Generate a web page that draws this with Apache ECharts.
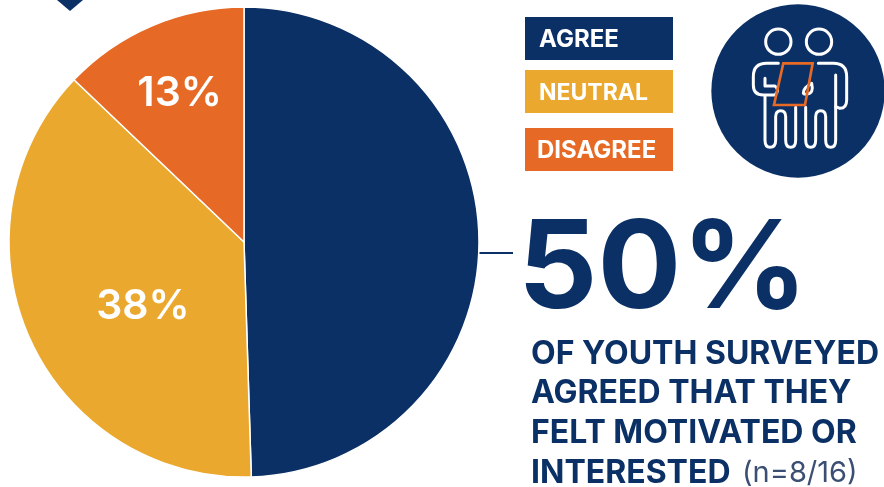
<!DOCTYPE html>
<html>
<head>
<meta charset="utf-8">
<style>html,body{margin:0;padding:0;background:#fff}#chart{width:884px;height:487px}</style>
<script src="https://cdn.jsdelivr.net/npm/echarts@6/dist/echarts.min.js"></script>
</head>
<body>
<div id="chart"></div>
<script>
// Survey responses, clockwise from twelve o'clock
const categories = ['AGREE', 'NEUTRAL', 'DISAGREE'];
const shares = [50, 38, 13];
const sliceColors = ['#0b3066', '#eaa92e', '#e66a25'];

// Callout text
const headlineLines = ['OF YOUTH SURVEYED', 'AGREED THAT THEY', 'FELT MOTIVATED OR', 'INTERESTED'];
const sampleNote = '(n=8/16)';

const NAVY = sliceColors[0];
const FONT = 'Inter, "Open Sans", sans-serif';

// Nudges the percentage labels away from the slice mid-radius
const labelOffsets = [[0, 0], [9, 16], [-17, -38]];
const legendTops = [17, 70, 128];
const legendTextX = [539, 539, 537];
const legendFontSizes = [24, 23, 24];

const chart = echarts.init(document.getElementById('chart'), null, { renderer: 'canvas' });

// Outlines for the badge figures, registered as reusable graphic shapes
const figurePaths = {
  leftArm: 'M805 190 L770 190 Q730 190 730 230 L730 255 Q730 285 760 285 L795 285 Q810 272 795 258 L765 258 L765 235',
  legs: 'M765 290 L765 420 Q765 442 780 442 Q797 442 797 420 L797 350 Q797 332 812 332 Q827 332 827 350 L827 420 Q827 442 842 442 Q857 442 857 420 L857 322 M887 322 L887 420 Q887 442 902 442 Q917 442 917 420 L917 350 Q917 332 932 332 Q947 332 947 350 L947 420 Q947 442 962 442 Q977 442 977 420 L977 225',
  rightArm: 'M925 190 L970 190 Q1010 190 1010 230 L1010 300 Q1010 325 990 325 L977 320',
  hand: 'M880 280 Q880 262 905 250 Q912 280 892 282 Q882 284 880 280'
};
Object.keys(figurePaths).forEach((key) => {
  echarts.graphic.registerShape(key, echarts.graphic.extendPath(figurePaths[key], {}));
});

const legendRects = categories.flatMap((name, i) => [
  { type: 'rect', shape: { x: 525, y: legendTops[i], width: 148, height: 43 }, style: { fill: sliceColors[i] } },
  { type: 'text', x: legendTextX[i], y: legendTops[i] + 23,
    style: { text: name, fill: '#fff', font: `700 ${legendFontSizes[i]}px ${FONT}`, verticalAlign: 'middle' } }
]);

const calloutLines = headlineLines.map((line, i) => ({
  type: 'text', x: 531, y: 354 + i * 39.7,
  style: { text: line, fill: NAVY, font: `700 32px ${FONT}`, verticalAlign: 'middle' }
}));

// Two figures sharing a clipboard, inside the round badge
const figureStroke = { fill: null, stroke: '#fff', lineWidth: 9, lineCap: 'round', lineJoin: 'round' };
const badge = {
  type: 'group', x: 510, y: 0, scaleX: 1 / 3, scaleY: 1 / 3,
  children: [
    { type: 'circle', shape: { cx: 864, cy: 273, r: 260 }, style: { fill: NAVY } },
    { type: 'circle', shape: { cx: 805, cy: 125, r: 38 }, style: figureStroke },
    { type: 'circle', shape: { cx: 927, cy: 125, r: 38 }, style: figureStroke },
    ...Object.keys(figurePaths).map((key) => ({ type: key, style: figureStroke })),
    { type: 'polygon', shape: { points: [[820, 190], [908, 190], [885, 315], [792, 315]] },
      style: { fill: null, stroke: sliceColors[2], lineWidth: 8, lineJoin: 'miter' } }
  ]
};

chart.setOption({
  animation: false,
  backgroundColor: '#ffffff',
  series: [{
    type: 'pie',
    center: [244, 242],
    radius: [0, 235],
    startAngle: 90,
    clockwise: true,
    avoidLabelOverlap: false,
    itemStyle: { borderColor: '#fff', borderWidth: 1.5 },
    labelLine: { show: false },
    data: categories.map((name, i) => ({
      name,
      value: shares[i],
      itemStyle: { color: sliceColors[i] },
      // The agree slice carries its figure in the callout, not on the slice
      label: {
        show: i !== 0,
        position: 'inside',
        formatter: () => shares[i] + '%',
        color: '#fff',
        fontFamily: FONT,
        fontWeight: 600,
        fontSize: 41,
        offset: labelOffsets[i]
      }
    }))
  }],
  graphic: [
    // Tip of the marker cut off by the top edge
    { type: 'polygon', shape: { points: [[57, 0], [83, 0], [70, 11]] }, style: { fill: NAVY } },
    // Leader from the pie to the big figure
    { type: 'line', shape: { x1: 476, y1: 253, x2: 513, y2: 253 }, style: { stroke: NAVY, lineWidth: 2 } },
    { type: 'text', x: 518, y: 271, scaleX: 1.02,
      style: { text: shares[0] + '%', fill: NAVY, font: `700 122px ${FONT}`, verticalAlign: 'middle' } },
    ...legendRects,
    badge,
    ...calloutLines,
    { type: 'text', x: 742, y: 354 + 3 * 39.7,
      style: { text: sampleNote, fill: '#3a4f73', font: `400 29px ${FONT}`, verticalAlign: 'middle' } }
  ]
});
</script>
</body>
</html>
